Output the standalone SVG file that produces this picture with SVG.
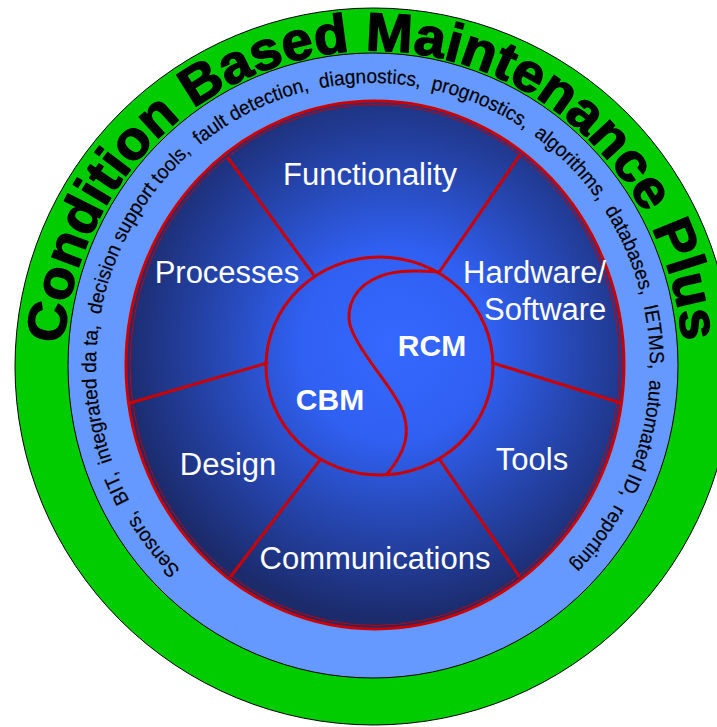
<svg xmlns="http://www.w3.org/2000/svg" width="717" height="727" viewBox="0 0 717 727">
<defs>
<radialGradient id="discGrad" gradientUnits="userSpaceOnUse" cx="395" cy="345" r="275" fx="395" fy="345">
<stop offset="0" stop-color="#3568ff"/>
<stop offset="0.35" stop-color="#3060f2"/>
<stop offset="0.65" stop-color="#2647b2"/>
<stop offset="1" stop-color="#1b2b6c"/>
</radialGradient>
<path id="titleArc" d="M 63.8 344 A 310 316 0 0 1 682.2 344"/>
<path id="itemsArc" d="M 180.6 569.6 A 277 283 0 1 1 565.4 569.6"/>
</defs>
<style>
.label{font-family:"Liberation Sans",Arial,sans-serif;font-size:31px;fill:#ffffff;text-anchor:middle}
.start{text-anchor:start}
.core{font-family:"Liberation Sans",Arial,sans-serif;font-size:30px;font-weight:bold;fill:#ffffff;text-anchor:middle}
.divider{stroke:#cc0000;stroke-width:3;fill:none;stroke-linecap:round}
.title{font-family:"Liberation Sans",Arial,sans-serif;font-size:54px;font-weight:bold;fill:#000000;stroke:#000000;stroke-width:1.4;stroke-linejoin:round}
.items{font-family:"Liberation Sans",Arial,sans-serif;font-size:20px;fill:#000000;stroke:#000000;stroke-width:0.2}
</style>

<g id="outer-ring">
<ellipse cx="373.5" cy="366.5" rx="358.5" ry="358.5" fill="#00cc00" stroke="#000000" stroke-width="1"/>
<text class="title" textLength="935" lengthAdjust="spacingAndGlyphs"><textPath href="#titleArc">Condition Based Maintenance Plus</textPath></text>
</g>

<g id="enablers-ring">
<ellipse cx="373" cy="365.5" rx="305" ry="312.5" fill="#6699ff" stroke="#000000" stroke-width="1"/>
<text class="items" xml:space="preserve" textLength="1325" lengthAdjust="spacingAndGlyphs"><textPath href="#itemsArc">Sensors,  BIT,  integrated da ta,  decision support tools,  fault detection,  diagnostics,  prognostics,  algorithms,  databases,  IETMS,  automated ID,  reporting</textPath></text>
</g>

<g id="disc">
<ellipse cx="375" cy="365" rx="249" ry="264" fill="url(#discGrad)" stroke="#cc0000" stroke-width="3"/>
<ellipse cx="375" cy="365" rx="245" ry="260.5" fill="none" stroke="#cc0000" stroke-width="1"/>
</g>

<g id="connectors">
<line class="divider" x1="228" y1="158" x2="313" y2="274"/>
<line class="divider" x1="520" y1="155" x2="440" y2="271"/>
<line class="divider" x1="130" y1="403" x2="267" y2="363"/>
<line class="divider" x1="621" y1="403" x2="493" y2="363"/>
<line class="divider" x1="231" y1="576" x2="320" y2="460"/>
<line class="divider" x1="519" y1="576" x2="440" y2="460"/>
</g>

<g id="functionality"><text class="label" x="370" y="185">Functionality</text></g>
<g id="processes"><text class="label" x="227" y="283">Processes</text></g>
<g id="hardware-software"><text class="label start" x="463" y="283">Hardware/</text><text class="label start" x="484" y="320">Software</text></g>
<g id="design"><text class="label" x="228" y="475">Design</text></g>
<g id="tools"><text class="label" x="532" y="470">Tools</text></g>
<g id="communications"><text class="label" x="375" y="569">Communications</text></g>

<g id="core">
<ellipse cx="379.5" cy="366" rx="113.5" ry="109" fill="none" stroke="#cc0000" stroke-width="3"/>
<path d="M 440 272 C 410 270 390 270 372 280 C 350 292 344 315 353 333 C 365 360 395 390 403 412 C 410 432 407 450 387 474" fill="none" stroke="#cc0000" stroke-width="3"/>
</g>
<g id="cbm"><text class="core" x="330" y="410">CBM</text></g>
<g id="rcm"><text class="core" x="432" y="356">RCM</text></g>
</svg>
